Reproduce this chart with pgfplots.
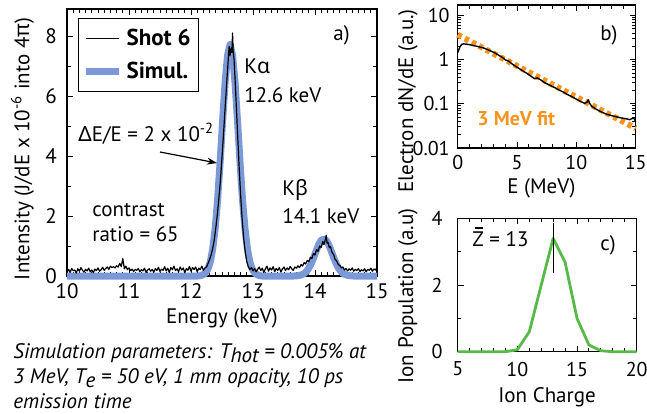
\documentclass[border=0pt]{standalone}
\usepackage{fontspec}
\setmainfont{PT Sans}
\newfontfamily\gr{Noto Sans}
\usepackage{pgfplots}
\pgfplotsset{compat=1.18}
\usetikzlibrary{arrows.meta}
\definecolor{simblue}{RGB}{122,153,214}
\definecolor{fitorange}{RGB}{247,148,30}
\definecolor{iongreen}{RGB}{87,185,71}
\pgfplotsset{
  mystyle/.style={
    scale only axis,
    anchor=south west,
    axis line style={line width=0.6pt},
    tick align=inside,
    major tick length=3pt,
    minor tick length=1.8pt,
    every tick/.style={black, line width=0.5pt},
    /pgf/number format/assume math mode=true,
    tick label style={font=\fontsize{10.5}{12}\selectfont},
    label style={font=\fontsize{10.5}{12}\selectfont},
    clip=false,
  }
}
\begin{document}
\begin{tikzpicture}
\useasboundingbox (0,0) rectangle (323.5pt,-206.5pt);
% ---------------- panel a
\begin{axis}[mystyle, at={(33.5pt,-138pt)}, width=155pt, height=133.5pt,
  xmin=10, xmax=15, ymin=0, ymax=8.9,
  xtick={10,11,12,13,14,15}, ytick={0,2,4,6,8},
  minor x tick num=9, minor y tick num=1,
  yticklabel style={xshift=-1.5pt},
  xlabel={Energy (keV)},
  ylabel={Intensity (J/dE x 10\textsuperscript{-6} into 4{\gr π})},
  xlabel style={at={(axis description cs:0.5,-0.157)}, anchor=center},
  ylabel style={at={(axis description cs:-0.1435,0.476)}, anchor=center},
  reverse legend,
  legend cell align=left,
  legend image code/.code={\draw[#1] (0pt,0pt) -- (16.5pt,0pt);},
  legend style={at={(axis description cs:0.0355,0.966)}, anchor=north west,
    draw=black, line width=0.6pt, inner xsep=2pt, inner ysep=3pt,
    font=\bfseries\fontsize{11.5}{13}\selectfont, row sep=3pt},
]
\addplot[simblue, line width=3.5pt, line join=round] coordinates {
(10,0) (12.11,0) (12.15,0.01) (12.19,0.04) (12.23,0.10) (12.27,0.22) (12.31,0.46)
(12.35,0.90) (12.39,1.59) (12.43,2.57) (12.47,3.81) (12.51,5.18) (12.55,6.45)
(12.59,7.36) (12.63,7.72) (12.67,7.36) (12.71,6.45) (12.75,5.18) (12.79,3.81)
(12.83,2.57) (12.87,1.59) (12.91,0.90) (12.95,0.46) (12.99,0.22) (13.03,0.10)
(13.07,0.04) (13.11,0.01) (13.15,0)
(13.66,0) (13.70,0.006) (13.74,0.016) (13.78,0.036) (13.82,0.075) (13.86,0.146)
(13.90,0.258) (13.94,0.418) (13.98,0.619) (14.02,0.843) (14.06,1.049) (14.10,1.196)
(14.14,1.22) (14.18,1.196) (14.22,1.049) (14.26,0.843) (14.30,0.619) (14.34,0.418)
(14.38,0.258) (14.42,0.146) (14.46,0.075) (14.50,0.036) (14.54,0.016) (14.58,0.006)
(14.62,0) (15,0)
};
\addlegendentry{Simul.}
\addplot[black, line width=0.6pt, line join=round] coordinates {
(10.000,0.15) (10.025,0.22) (10.050,0.12) (10.075,0.25) (10.100,0.18) (10.125,0.20)
(10.150,0.10) (10.175,0.24) (10.200,0.16) (10.225,0.28) (10.250,0.19) (10.275,0.13)
(10.300,0.22) (10.325,0.17) (10.350,0.26) (10.375,0.14) (10.400,0.20) (10.425,0.11)
(10.450,0.23) (10.475,0.18) (10.500,0.27) (10.525,0.16) (10.550,0.21) (10.575,0.29)
(10.600,0.19) (10.625,0.25) (10.650,0.30) (10.675,0.22) (10.700,0.33) (10.725,0.28)
(10.750,0.31) (10.775,0.27) (10.800,0.34) (10.825,0.30) (10.850,0.42) (10.875,0.31)
(10.900,0.58) (10.925,0.24) (10.950,0.33) (10.975,0.21) (11.000,0.27) (11.025,0.18)
(11.050,0.23) (11.075,0.15) (11.100,0.22) (11.125,0.19) (11.150,0.25) (11.175,0.14)
(11.200,0.21) (11.225,0.17) (11.250,0.26) (11.275,0.12) (11.300,0.20) (11.325,0.24)
(11.350,0.16) (11.375,0.22) (11.400,0.13) (11.425,0.25) (11.450,0.18) (11.475,0.29)
(11.500,0.15) (11.525,0.23) (11.550,0.19) (11.575,0.31) (11.600,0.17) (11.625,0.26)
(11.650,0.12) (11.675,0.28) (11.700,0.21) (11.725,0.33) (11.750,0.18) (11.775,0.24)
(11.800,0.14) (11.825,0.30) (11.850,0.20) (11.875,0.27) (11.900,0.11) (11.925,0.25)
(11.950,0.19) (11.975,0.32) (12.000,0.16) (12.025,0.28) (12.050,0.22) (12.075,0.30)
(12.100,0.14) (12.125,0.26) (12.150,0.21) (12.175,0.33) (12.200,0.19) (12.225,0.27)
(12.250,0.30) (12.275,0.42) (12.300,0.55) (12.325,0.70) (12.350,0.92) (12.375,1.20)
(12.400,1.60) (12.425,2.05) (12.450,2.60) (12.475,3.20) (12.500,3.95) (12.525,4.75)
(12.550,5.60) (12.575,6.40) (12.600,7.20) (12.615,7.65) (12.630,7.35) (12.645,7.60)
(12.660,7.45) (12.670,8.10) (12.680,7.50) (12.695,7.20) (12.710,6.60) (12.730,5.70)
(12.750,4.80) (12.775,3.70) (12.800,2.70) (12.825,1.90) (12.850,1.25) (12.875,0.80)
(12.900,0.48) (12.925,0.30) (12.950,0.22) (12.975,0.28) (13.000,0.17) (13.025,0.25)
(13.050,0.14) (13.075,0.22) (13.100,0.30) (13.125,0.18) (13.150,0.26) (13.175,0.12)
(13.200,0.24) (13.225,0.33) (13.250,0.16) (13.275,0.27) (13.300,0.20) (13.325,0.31)
(13.350,0.15) (13.375,0.25) (13.400,0.19) (13.425,0.28) (13.450,0.13) (13.475,0.24)
(13.500,0.30) (13.525,0.18) (13.550,0.27) (13.575,0.21) (13.600,0.32) (13.625,0.24)
(13.650,0.19) (13.675,0.30) (13.700,0.26) (13.725,0.34) (13.750,0.28) (13.775,0.38)
(13.800,0.33) (13.825,0.45) (13.850,0.40) (13.875,0.52) (13.900,0.48) (13.925,0.62)
(13.950,0.58) (13.975,0.75) (14.000,0.70) (14.025,0.88) (14.050,0.82) (14.075,1.00)
(14.100,0.95) (14.125,1.15) (14.145,1.05) (14.165,1.20) (14.180,1.36) (14.195,1.10)
(14.210,1.12) (14.230,0.95) (14.250,0.98) (14.275,0.78) (14.300,0.72) (14.325,0.55)
(14.350,0.50) (14.375,0.38) (14.400,0.35) (14.425,0.27) (14.450,0.30) (14.475,0.20)
(14.500,0.25) (14.525,0.17) (14.550,0.24) (14.575,0.19) (14.600,0.27) (14.625,0.16)
(14.650,0.22) (14.675,0.18) (14.700,0.25) (14.725,0.15) (14.750,0.21) (14.775,0.17)
(14.800,0.24) (14.825,0.14) (14.850,0.22) (14.875,0.19) (14.900,0.26) (14.925,0.16)
(14.950,0.23) (14.975,0.20) (15.000,0.30)
};
\addlegendentry{Shot 6}
\end{axis}
% ---------------- panel b
\begin{axis}[mystyle, at={(228.85pt,-74pt)}, width=89pt, height=71.5pt,
  ymode=log, xmin=0, xmax=15, ymin=0.01, ymax=17.5,
  xtick={0,5,10,15}, ytick={0.01,0.1,1,10}, yticklabels={0.01,0.1,1,10},
  minor x tick num=4,
  tick label style={font=\fontsize{10}{12}\selectfont},
  yticklabel style={xshift=-0.5pt},
  xlabel={E (MeV)}, ylabel={Electron dN/dE (a.u.)},
  xlabel style={at={(axis description cs:0.47,-0.28)}, anchor=center},
  ylabel style={at={(axis description cs:-0.279,0.329)}, anchor=center},
]
\addplot[fitorange, line width=3pt, dash pattern=on 2.2pt off 1.8pt] coordinates {
(0,3.7) (1,2.67) (2,1.93) (3,1.39) (4,1.006) (5,0.726) (6,0.525) (7,0.379)
(8,0.273) (9,0.198) (10,0.143) (11,0.103) (12,0.0744) (13,0.0537) (14,0.0388) (15,0.028)
};
\addplot[black, line width=0.7pt, line join=round] coordinates {
(0,1.45) (0.1,1.7) (0.2,2.0) (0.35,2.25) (0.5,2.3) (0.8,2.25) (1.2,2.15) (1.7,2.0)
(2.2,1.85) (2.7,1.62) (3.1,1.45) (3.5,1.25) (3.8,1.12) (4.0,1.0) (4.3,0.93) (4.6,0.8)
(5.0,0.68) (5.4,0.58) (5.8,0.5) (6.2,0.42) (6.5,0.37) (6.7,0.39) (7.0,0.35) (7.35,0.30)
(7.7,0.27) (8.1,0.24) (8.5,0.21) (8.9,0.185) (9.3,0.16) (9.6,0.147) (10.0,0.128)
(10.4,0.112) (10.7,0.103) (10.9,0.11) (11.0,0.125) (11.1,0.105) (11.3,0.088)
(11.7,0.075) (12.1,0.066) (12.5,0.059) (13.0,0.054) (13.5,0.050) (13.8,0.048)
(14.2,0.046) (14.5,0.044) (14.8,0.048) (14.9,0.045) (15,0.038)
};
\end{axis}
% ---------------- panel c
\begin{axis}[mystyle, at={(228.85pt,-175.85pt)}, width=89.5pt, height=66.7pt,
  xmin=5, xmax=20, ymin=0, ymax=4,
  xtick={5,10,15,20}, ytick={0,2,4},
  minor x tick num=4, minor y tick num=1,
  tick label style={font=\fontsize{10}{12}\selectfont},
  yticklabel style={xshift=-4pt},
  xticklabel style={yshift=-1.5pt},
  xlabel={Ion Charge}, ylabel={Ion Population (a.u)},
  xlabel style={at={(axis description cs:0.499,-0.34)}, anchor=center},
  ylabel style={at={(axis description cs:-0.278,0.418)}, anchor=center},
]
\addplot[iongreen, line width=1.4pt, line join=round] coordinates {
(5,0) (9,0) (10,0.06) (11,0.6) (12,2.0) (13,3.4) (14,2.68) (15,1.0) (16,0.2)
(17,0.03) (18,0) (20,0)
};
\addplot[black, line width=0.6pt] coordinates {(13,2.35) (13,3.85)};
\end{axis}
% ---------------- annotations (pixel coordinates)
\begin{scope}[x=0.5pt, y=-0.5pt, every node/.style={inner sep=0pt, anchor=base west},
  font=\fontsize{10.5}{12}\selectfont]
\node at (333,40) {a)};
\node at (244,73) {K{\gr α}};
\node at (244,102) {12.6 keV};
\node at (78,141.5) {{\gr Δ}E/E = 2 x 10\textsuperscript{-2}};
\draw[-{Stealth[length=5pt,width=3.5pt]}, line width=0.6pt] (160,152) -- (217,163);
\node at (92,216.5) {contrast};
\node at (92,241.5) {ratio = 65};
\node at (282,195) {K{\gr β}};
\node at (282,223.5) {14.1 keV};
\node at (600,40) {b)};
\node[font=\bfseries\fontsize{10}{12}\selectfont, text=fitorange] at (477,125) {3 MeV fit};
\node at (472,246.5) {\makebox[0pt][l]{\hspace{1.3pt}\rule[9pt]{3.8pt}{0.6pt}}Z = 13};
\node at (600,250) {c)};
\node[font=\itshape\fontsize{10.5}{12}\selectfont] at (13,358) {Simulation parameters: T\raisebox{-0.45ex}{hot} = 0.005\% at};
\node[font=\itshape\fontsize{10.5}{12}\selectfont] at (13,383) {3 MeV, T\raisebox{-0.45ex}{e} = 50 eV, 1 mm opacity, 10 ps};
\node[font=\itshape\fontsize{10.5}{12}\selectfont] at (13,408) {emission time};
\end{scope}
\end{tikzpicture}
\end{document}
